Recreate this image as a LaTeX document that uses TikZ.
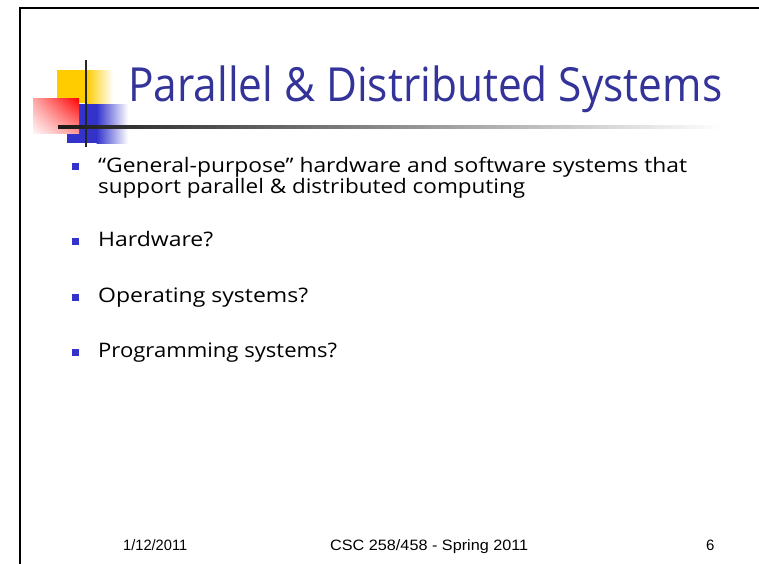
\documentclass[tikz,border=0pt]{standalone}
\usepackage{fontspec}
\usepackage{graphicx}
\usetikzlibrary{shadings}
\setmainfont{Open Sans}
\newfontfamily\footfont{Liberation Sans}
\definecolor{titleblue}{RGB}{51,51,153}
\definecolor{bulletblue}{RGB}{51,51,204}
\definecolor{logoyellow}{RGB}{255,204,0}
\definecolor{logoblue}{RGB}{51,51,204}
\begin{document}
\begin{tikzpicture}[x=1pt,y=-1pt,
  titletext/.style={anchor=base west, inner sep=0pt, text=titleblue, font=\fontsize{47}{50}\selectfont},
  bodytext/.style={anchor=base west, inner sep=0pt, text=black, font=\fontsize{20}{24}\selectfont},
  foottext/.style={anchor=base west, inner sep=0pt, text=black, font=\footfont\fontsize{15}{18}\selectfont},
  bulletsq/.style={fill=bulletblue, draw=none, inner sep=0pt, minimum size=7pt, shape=rectangle}]
\useasboundingbox (0,0) rectangle (759,563);
\fill[white] (0,0) rectangle (759,563);
% slide frame
\draw[line width=2.5pt] (20,575) -- (20,8) -- (775,8);
% logo
\fill[logoyellow] (57,70) rectangle (87,103);
\shade[left color=logoyellow, right color=white] (86.5,70) rectangle (113,103);
\fill[logoblue] (67,104) rectangle (97,143);
\shade[left color=logoblue, right color=white] (96.5,104) rectangle (128,143);
\shade[upper right=red, upper left=red!35, lower left=red!4, lower right=red!40] (33,98) rectangle (79,133);
\shade[left color=black!90, middle color=black!50, right color=white] (58,125.5) rectangle (723,128.5);
\draw[line width=2.5pt, black!85] (86,60) -- (86,147);
% title
\node[titletext] (title) at (128,101) {\resizebox{594pt}{\height}{Parallel \& Distributed Systems}};
% bullets
\node[bulletsq] (b1) at (75.5,166.5) {};
\node[bodytext] (t1a) at (98,172) {\resizebox{589pt}{\height}{“General-purpose” hardware and software systems that}};
\node[bodytext] (t1b) at (98,193) {\resizebox{427pt}{\height}{support parallel \& distributed computing}};
\node[bulletsq] (b2) at (75.5,241.5) {};
\node[bodytext] (t2) at (98,246) {\resizebox{115pt}{\height}{Hardware?}};
\node[bulletsq] (b3) at (75.5,297.5) {};
\node[bodytext] (t3) at (98,302) {\resizebox{210pt}{\height}{Operating systems?}};
\node[bulletsq] (b4) at (75.5,352.5) {};
\node[bodytext] (t4) at (98,357) {\resizebox{239pt}{\height}{Programming systems?}};
% footer
\node[foottext] (date) at (123,550) {\resizebox{64pt}{\height}{1/12/2011}};
\node[foottext] (course) at (330,550) {\resizebox{198pt}{\height}{CSC 258/458 - Spring 2011}};
\node[foottext] (page) at (706,550) {6};
\end{tikzpicture}
\end{document}
